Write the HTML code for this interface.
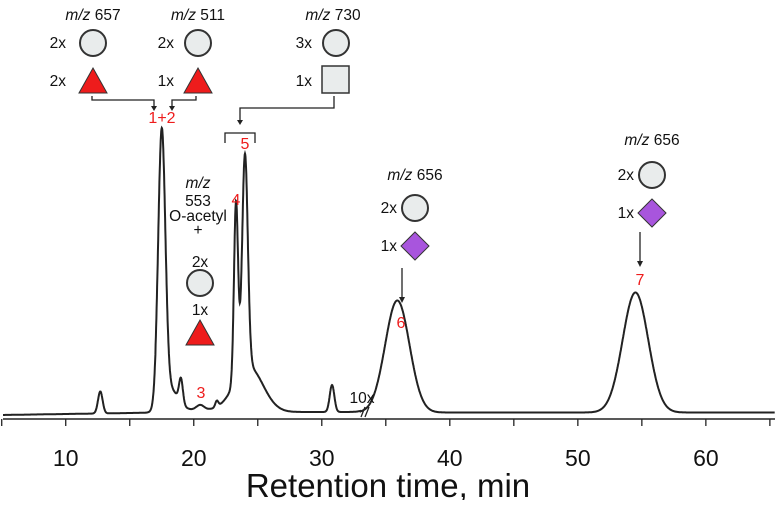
<!DOCTYPE html>
<html><head><meta charset="utf-8"><style>
body{margin:0;background:#fff}
svg text{font-family:"Liberation Sans",sans-serif}
</style></head><body>
<svg width="776" height="500" viewBox="0 0 776 500">
<g id="axis"></g>
<path id="trace" fill="none" stroke="#222" stroke-width="2"/>
<g font-size="15.5" fill="#111">
<text x="93" y="20" text-anchor="middle"><tspan font-style="italic">m/z</tspan> 657</text>
<text x="66" y="48" text-anchor="end">2x</text>
<circle cx="93" cy="43" r="13" fill="#e9ecec" stroke="#333" stroke-width="2"/>
<text x="66" y="86" text-anchor="end">2x</text>
<polygon points="93,68 107,93 79,93" fill="#ee1c1c" stroke="#333" stroke-width="1"/>
<text x="198" y="20" text-anchor="middle"><tspan font-style="italic">m/z</tspan> 511</text>
<text x="174" y="48" text-anchor="end">2x</text>
<circle cx="198" cy="43" r="13" fill="#e9ecec" stroke="#333" stroke-width="2"/>
<text x="174" y="86" text-anchor="end">1x</text>
<polygon points="198,68 212,93 184,93" fill="#ee1c1c" stroke="#333" stroke-width="1"/>
<text x="333" y="20" text-anchor="middle"><tspan font-style="italic">m/z</tspan> 730</text>
<text x="312" y="48" text-anchor="end">3x</text>
<circle cx="336" cy="43" r="13" fill="#e9ecec" stroke="#333" stroke-width="2"/>
<text x="312" y="86" text-anchor="end">1x</text>
<rect x="322" y="66" width="27" height="27" fill="#e9ecec" stroke="#333" stroke-width="1.5"/>
<g stroke="#222" stroke-width="1.3" fill="none">
<path d="M92 96 V100 H154 V107"/><path d="M196 96 V100 H172 V107"/>
<path d="M334 96 V108 H240 V121"/>
<path d="M225 143 V133 H255 V143"/>
<path d="M402 268 V298"/><path d="M640 232 V262"/>
</g>
<g fill="#222">
<polygon points="151,106 157,106 154,111"/><polygon points="169,106 175,106 172,111"/>
<polygon points="237,120 243,120 240,125"/>
<polygon points="399,297 405,297 402,303"/><polygon points="637,261 643,261 640,267"/>
</g>
<g fill="#ee1c1c" text-anchor="middle" font-size="16">
<text x="162" y="123">1+2</text><text x="245" y="149">5</text><text x="236" y="205">4</text>
<text x="201" y="398">3</text><text x="401" y="328">6</text><text x="640" y="285">7</text>
</g>
<g text-anchor="middle">
<text x="198" y="188" font-style="italic">m/z</text>
<text x="198" y="206">553</text><text x="198" y="221">O-acetyl</text><text x="198" y="235">+</text>
<text x="200" y="267">2x</text>
<circle cx="200" cy="283" r="13" fill="#e9ecec" stroke="#333" stroke-width="2"/>
<text x="200" y="315">1x</text>
<polygon points="200,320 214,345 186,345" fill="#ee1c1c" stroke="#333" stroke-width="1"/>
</g>
<text x="415" y="180" text-anchor="middle"><tspan font-style="italic">m/z</tspan> 656</text>
<text x="397" y="213" text-anchor="end">2x</text>
<circle cx="415" cy="208" r="13" fill="#e9ecec" stroke="#333" stroke-width="2"/>
<text x="397" y="251" text-anchor="end">1x</text>
<polygon points="415,232 429,246 415,260 401,246" fill="#a855dd" stroke="#333" stroke-width="1"/>
<text x="652" y="145" text-anchor="middle"><tspan font-style="italic">m/z</tspan> 656</text>
<text x="634" y="180" text-anchor="end">2x</text>
<circle cx="652" cy="175" r="13" fill="#e9ecec" stroke="#333" stroke-width="2"/>
<text x="634" y="218" text-anchor="end">1x</text>
<polygon points="652,199 666,213 652,227 638,213" fill="#a855dd" stroke="#333" stroke-width="1"/>
<text x="362" y="403" text-anchor="middle">10x</text>
<path d="M361 417 L365 407 M365 417 L369 407" stroke="#222" stroke-width="1.3"/>
</g>
<text x="388" y="497" text-anchor="middle" font-size="33" fill="#111">Retention time, min</text>
</svg>
<script>
const peakCenters=[12.7,17.5,18.2,19.0,20.5,21.8,23.3,24.0,24.3,30.8,35.9,54.5];
const peakHeights=[22,272,20,24,5,6,180,215,45,27,112,120];
const peakWidths=[0.18,0.28,0.6,0.15,0.3,0.12,0.16,0.22,1.1,0.18,0.95,1.0];
const xTicks=[10,20,30,40,50,60];
const xMin=5.1,xMax=65.4;
const x=t=>3+(t-xMin)*(775-3)/(xMax-xMin);
const y=v=>415-v;
function baseline(t){if(t<17)return (t-5)*0.2;if(t<23)return 5;if(t<33)return 3;return 2.5;}
let d='';
for(let t=xMin;t<=xMax;t+=0.02){
 let v=baseline(t);
 for(let i=0;i<peakCenters.length;i++){const z=(t-peakCenters[i])/peakWidths[i];v+=peakHeights[i]*Math.exp(-z*z/2);}
 d+=(d?'L':'M')+x(t).toFixed(1)+' '+y(v).toFixed(1);
}
document.getElementById('trace').setAttribute('d',d);
const ax=document.getElementById('axis');const NS='http://www.w3.org/2000/svg';
function mk(tag,a){const e=document.createElementNS(NS,tag);for(const k in a)e.setAttribute(k,a[k]);ax.appendChild(e);return e;}
const al=mk('line',{x1:3,x2:775,y1:419,y2:419,stroke:'#222','stroke-width':1.5});


for(let t=5;t<=65;t+=5){const tk=mk('line',{x1:x(t),x2:x(t),y1:419,y2:426,stroke:'#222','stroke-width':1.3});

}
xTicks.forEach(t=>{const l=mk('text',{x:x(t),y:466,'text-anchor':'middle','font-size':23,fill:'#111'});l.textContent=t;

});
</script>
</body></html>
